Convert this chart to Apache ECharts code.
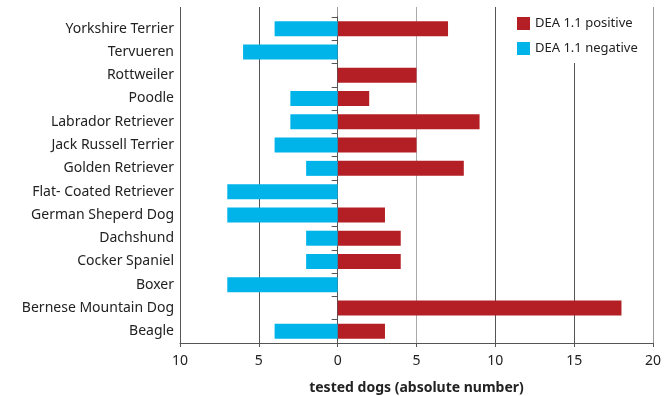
<!DOCTYPE html>
<html><head><meta charset="utf-8">
<script src="https://cdn.jsdelivr.net/npm/echarts@6/dist/echarts.min.js"></script>
<style>html,body{margin:0;padding:0;background:#fff}#c{width:664px;height:396px}</style>
</head><body><div id="c"></div>
<script>
const categories = ["Yorkshire Terrier","Tervueren","Rottweiler","Poodle","Labrador Retriever","Jack Russell Terrier","Golden Retriever","Flat- Coated Retriever","German Sheperd Dog","Dachshund","Cocker Spaniel","Boxer","Bernese Mountain Dog","Beagle"];
const positive = [7,0,5,2,9,5,8,0,3,4,4,0,18,3];
const negative = [4,6,0,3,3,4,2,7,7,2,2,7,0,4];
const xTicks = [-10,-5,0,5,10,15,20];

const font = "'Noto Sans', sans-serif";
const chart = echarts.init(document.getElementById('c'));
chart.setOption({
  animation:false,
  textStyle:{fontFamily:font},
  legend:{
    data:['DEA 1.1 positive','DEA 1.1 negative'],
    orient:'vertical', left:505, top:2, icon:'rect',
    padding:[15,3,8,12], itemGap:12, itemWidth:13, itemHeight:13,
    backgroundColor:'#fff',
    textStyle:{fontSize:13,color:'#222',fontFamily:font}
  },
  grid:[
    {left:180,right:11,top:17,bottom:53,outerBoundsMode:'none',containLabel:false},
    {left:180,right:11,top:7,bottom:53,outerBoundsMode:'none',containLabel:false}
  ],
  xAxis:[
    {gridIndex:0,type:'value',min:xTicks[0],max:xTicks[xTicks.length-1],interval:5,
     axisLine:{show:true,lineStyle:{color:'#555',width:1}},
     axisTick:{show:true,length:4,lineStyle:{color:'#555'}},
     splitLine:{show:false},
     axisLabel:{fontSize:14,color:'#222',margin:11,formatter:v=>Math.abs(v)},
     name:'tested dogs (absolute number)',nameLocation:'middle',nameGap:38,
     nameTextStyle:{fontSize:14,fontWeight:'bold',color:'#222'}},
    {gridIndex:1,type:'value',min:xTicks[0],max:xTicks[xTicks.length-1],interval:5,
     axisLine:{show:false},axisTick:{show:false},axisLabel:{show:false},
     splitLine:{show:true,lineStyle:{color:['#555','#555','#999','#aaa','#555','#555','#999'],width:1}}}
  ],
  yAxis:[
    {gridIndex:0,type:'category',data:categories,inverse:true,
     axisLine:{show:true,lineStyle:{color:'#555'}},
     axisTick:{show:true,length:6,lineStyle:{color:'#555'}},
     axisLabel:{fontSize:14,color:'#222',margin:6}},
    {gridIndex:1,type:'value',show:false}
  ],
  series:[
    {name:'DEA 1.1 positive',type:'bar',stack:'a',xAxisIndex:0,yAxisIndex:0,
     data:positive,barWidth:15,itemStyle:{color:'#B31F24'},z:3},
    {name:'DEA 1.1 negative',type:'bar',stack:'a',xAxisIndex:0,yAxisIndex:0,
     data:negative.map(v=>-v),barWidth:15,itemStyle:{color:'#00B4EA'},z:3}
  ]
});
</script></body></html>
